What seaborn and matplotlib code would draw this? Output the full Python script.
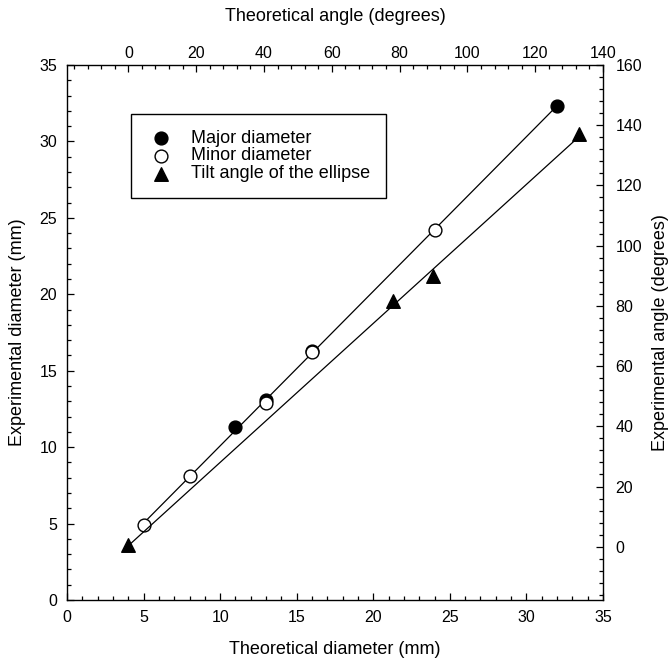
import numpy as np
import pandas as pd
import matplotlib
matplotlib.use("Agg")
import matplotlib.pyplot as plt
from matplotlib.ticker import MultipleLocator
import seaborn as sns

# values
major_x = [11, 13, 16, 32]
major_y = [11.3, 13.1, 16.3, 32.3]
minor_x = [5, 8, 13, 16, 24]
minor_y = [4.9, 8.1, 12.9, 16.2, 24.2]
tilt_x = [0, 78, 90, 133]
tilt_y = [0.5, 81.5, 90, 137]

sns.set_style("ticks", {'text.color': 'black', 'axes.labelcolor': 'black',
                        'xtick.color': 'black', 'ytick.color': 'black',
                        'axes.edgecolor': 'black'})
plt.rcParams['font.family'] = ['Liberation Sans', 'DejaVu Sans']

fig = plt.figure(figsize=(6.7, 6.59), dpi=100)
rect = [0.1, 0.0895, 0.8, 0.8119]
ax = fig.add_axes(rect)
ax2 = fig.add_axes(rect, facecolor='none')

# fitted lines (diameters on bottom/left, angles on top/right)
diam = pd.DataFrame({'x': major_x + minor_x, 'y': major_y + minor_y})
sns.regplot(data=diam, x='x', y='y', ax=ax, scatter=False, ci=None, truncate=True,
            color='black', line_kws=dict(lw=0.9))
tilt = pd.DataFrame({'x': tilt_x, 'y': tilt_y})
sns.regplot(data=tilt, x='x', y='y', ax=ax2, scatter=False, ci=None, truncate=True,
            color='black', line_kws=dict(lw=0.9))

sns.scatterplot(x=major_x, y=major_y, ax=ax, marker='o', s=85, color='black',
                edgecolor='black', linewidth=1, label='Major diameter', zorder=3)
sns.scatterplot(x=minor_x, y=minor_y, ax=ax, marker='o', s=85, color='white',
                edgecolor='black', linewidth=1, label='Minor diameter', zorder=4)
sns.scatterplot(x=tilt_x, y=tilt_y, ax=ax2, marker='^', s=95, color='black',
                edgecolor='black', linewidth=1, label='Tilt angle of the ellipse', zorder=3)

ax.set_xlim(0, 35)
ax.set_ylim(0, 35)
ax2.set_xlim(-18.1, 140)
ax2.set_ylim(-17.7, 160)

for a in (ax, ax2):
    if a.get_legend() is not None:
        a.get_legend().remove()

ax.xaxis.set_major_locator(MultipleLocator(5))
ax.xaxis.set_minor_locator(MultipleLocator(1))
ax.yaxis.set_major_locator(MultipleLocator(5))
ax.yaxis.set_minor_locator(MultipleLocator(1))
ax2.xaxis.set_major_locator(MultipleLocator(20))
ax2.xaxis.set_minor_locator(MultipleLocator(4))
ax2.yaxis.set_major_locator(MultipleLocator(20))
ax2.yaxis.set_minor_locator(MultipleLocator(4))

ax.tick_params(which='both', direction='in', top=False, right=False, width=0.9,
               labelsize=11.5, colors='black')
ax.tick_params(which='major', length=5)
ax.tick_params(which='minor', length=3)
ax.tick_params(axis='x', pad=7)
ax.tick_params(axis='y', pad=7)

ax2.xaxis.tick_top()
ax2.yaxis.tick_right()
ax2.tick_params(which='both', direction='in', width=0.9, labelsize=11.5, colors='black')
ax2.tick_params(which='major', length=5)
ax2.tick_params(which='minor', length=3)
ax2.tick_params(axis='x', pad=3)
ax2.tick_params(axis='y', pad=9)

for s in ax.spines.values():
    s.set_visible(True)
    s.set_linewidth(1)
    s.set_color('black')
for s in ax2.spines.values():
    s.set_visible(False)

ax.set_xlabel('Theoretical diameter (mm)', fontsize=13, va='center', color='black')
ax.set_ylabel('Experimental diameter (mm)', fontsize=13, va='center', color='black')
ax2.xaxis.set_label_position('top')
ax2.yaxis.set_label_position('right')
ax2.set_xlabel('Theoretical angle (degrees)', fontsize=13, va='center', color='black')
ax2.set_ylabel('Experimental angle (degrees)', fontsize=13, va='center', rotation=90,
               color='black')
ax.xaxis.set_label_coords(0.5, -0.092)
ax.yaxis.set_label_coords(-0.092, 0.5)
ax2.xaxis.set_label_coords(0.5, 1.090)
ax2.yaxis.set_label_coords(1.108, 0.5)

h1, l1 = ax.get_legend_handles_labels()
h2, l2 = ax2.get_legend_handles_labels()
leg = ax2.legend(h1 + h2, l1 + l2, loc='upper left', bbox_to_anchor=(0.119, 0.908),
                 borderaxespad=0, frameon=True, fancybox=False, edgecolor='black',
                 framealpha=1, fontsize=13, scatterpoints=1, handlelength=1.6,
                 handletextpad=0.9, borderpad=0.85, labelspacing=0.05,
                 labelcolor='black')
leg.get_frame().set_linewidth(1)

fig.savefig('out.png', dpi=100)
